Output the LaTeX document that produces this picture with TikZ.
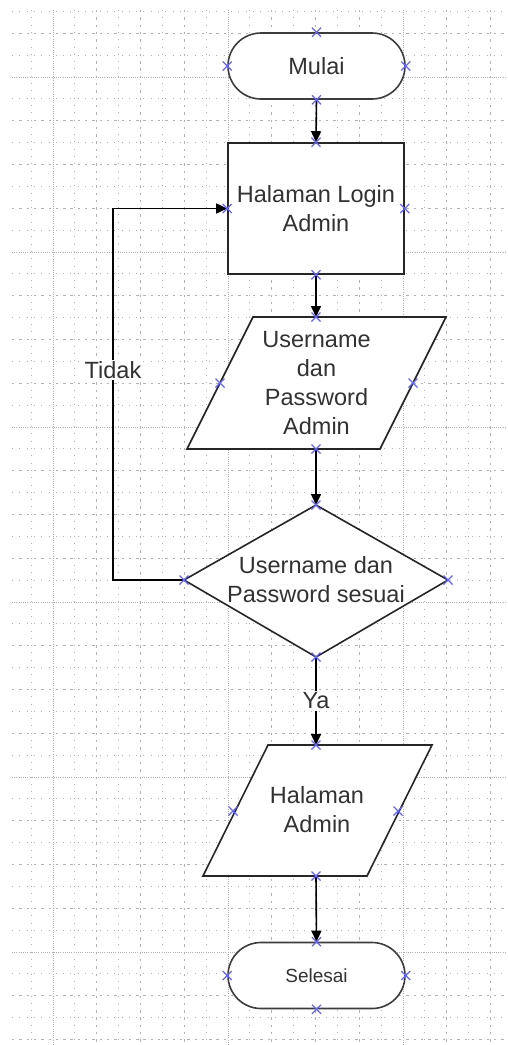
\documentclass[tikz,border=0pt]{standalone}
\usepackage{fontspec}
\setmainfont{Liberation Sans}
\usetikzlibrary{arrows.meta,shapes.misc}
\definecolor{gridc}{RGB}{178,178,178}
\definecolor{shapec}{RGB}{60,60,60}
\definecolor{xmc}{RGB}{100,100,255}
\definecolor{txtc}{RGB}{50,50,50}
\newcommand\bigtxt{\fontsize{23.5}{29}\selectfont}
\tikzset{
  gmajor/.style={gridc, line width=0.7pt, dash pattern=on 0.8pt off 1.4pt},
  geven/.style={gridc, line width=0.8pt, dash pattern=on 2.4pt off 4.9pt},
  godd/.style={gridc, line width=0.8pt, dash pattern=on 1pt off 6.3pt},
  term/.style={rounded rectangle, draw=shapec, line width=1.6pt, fill=white,
    minimum width=177pt, minimum height=66pt, inner sep=0pt, text=txtc, font=\bigtxt},
  procbox/.style={rectangle, draw=black!85, line width=1.6pt, fill=white,
    minimum width=176pt, minimum height=131pt, inner sep=0pt, align=center, text=txtc, font=\bigtxt},
  shp/.style={draw=black!85, line width=1.6pt, fill=white, line join=miter},
  txt/.style={align=center, text=txtc, font=\bigtxt, inner sep=0pt},
  flow/.style={black, line width=1.6pt, -{Triangle[length=11pt,width=10pt]}},
  lbl/.style={fill=white, text=txtc, font=\bigtxt, inner sep=1.5pt},
  xm/.style={xmc, line width=1.3pt}
}
\begin{document}
\begin{tikzpicture}[x=1pt,y=-1pt]
\useasboundingbox (0,0) rectangle (507,1045);
\fill[white] (0,0) rectangle (507,1045);
% grid
\begin{scope}
\clip (12,10) rectangle (507,1045);
\foreach \i in {-3,...,44}{
  \pgfmathtruncatemacro\m{mod(\i+80,8)}
  \pgfmathtruncatemacro\r{mod(\i+80,2)}
  \pgfmathsetmacro\yy{77+21.875*\i}
  \ifnum\m=0 \draw[gmajor] (12,\yy) -- (507,\yy);
  \else\ifnum\r=1 \draw[godd] (12,\yy) -- (507,\yy);
  \else \draw[geven] (12,\yy) -- (507,\yy); \fi\fi
}
\foreach \i in {-1,...,20}{
  \pgfmathtruncatemacro\m{mod(\i+80,8)}
  \pgfmathtruncatemacro\r{mod(\i+80,2)}
  \pgfmathsetmacro\xx{53+21.875*\i}
  \ifnum\m=0 \draw[gmajor] (\xx,10) -- (\xx,1045);
  \else\ifnum\r=1 \draw[godd] (\xx,10) -- (\xx,1045);
  \else \draw[geven] (\xx,10) -- (\xx,1045); \fi\fi
}
\end{scope}

% start
\node[term] (mulai) at (316.5,66) {Mulai};
% login page
\node[procbox] (login) at (316,208.5) {Halaman Login\\Admin};
% input parallelogram
\coordinate (p1T) at (316,317);
\coordinate (p1B) at (316,449);
\coordinate (p1L) at (220,383);
\coordinate (p1R) at (413,383);
\draw[shp] (253,317) -- (446,317) -- (380,449) -- (187,449) -- cycle;
\node[txt] (inp) at (316.5,383) {Username\\dan\\Password\\Admin};
% decision
\coordinate (decT) at (316,505);
\coordinate (decB) at (316,657);
\coordinate (decL) at (184,580);
\coordinate (decR) at (448,580);
\draw[shp] (decT) -- (decR) -- (decB) -- (decL) -- cycle;
\node[txt] (dec) at (316,580) {Username dan\\Password sesuai};
% admin page
\coordinate (haT) at (316,745);
\coordinate (haB) at (316,876);
\coordinate (haL) at (233,811);
\coordinate (haR) at (398,811);
\draw[shp] (268,745) -- (432,745) -- (367,876) -- (203,876) -- cycle;
\node[txt] (hadm) at (317,810) {Halaman\\Admin};
% end
\node[term, font=\fontsize{19}{23}\selectfont] (selesai) at (316.5,975.5) {Selesai};

% connectors
\coordinate (lp1) at (113,580);
\draw[flow] (mulai.south) -- (login.north);
\draw[flow] (login.south) -- (p1T);
\draw[flow] (p1B) -- (decT);
\draw[flow] (decB) -- node[lbl] (ya) {Ya} (haT);
\draw[flow] (haB) -- (selesai.north);
\draw[flow] (decL) -- (lp1) |- node[lbl, pos=0.283] (tidak) {Tidak} (login.west);

% connection point markers
\foreach \p in {mulai.north,mulai.south,mulai.west,mulai.east,
  login.north,login.south,login.west,login.east,
  p1T,p1B,p1L,p1R,decT,decB,decL,decR,haT,haB,haL,haR,
  selesai.north,selesai.south,selesai.west,selesai.east}
  \draw[xm] (\p) ++(-4.5,-4.5) -- ++(9,9) ++(0,-9) -- ++(-9,9);
\end{tikzpicture}
\end{document}
